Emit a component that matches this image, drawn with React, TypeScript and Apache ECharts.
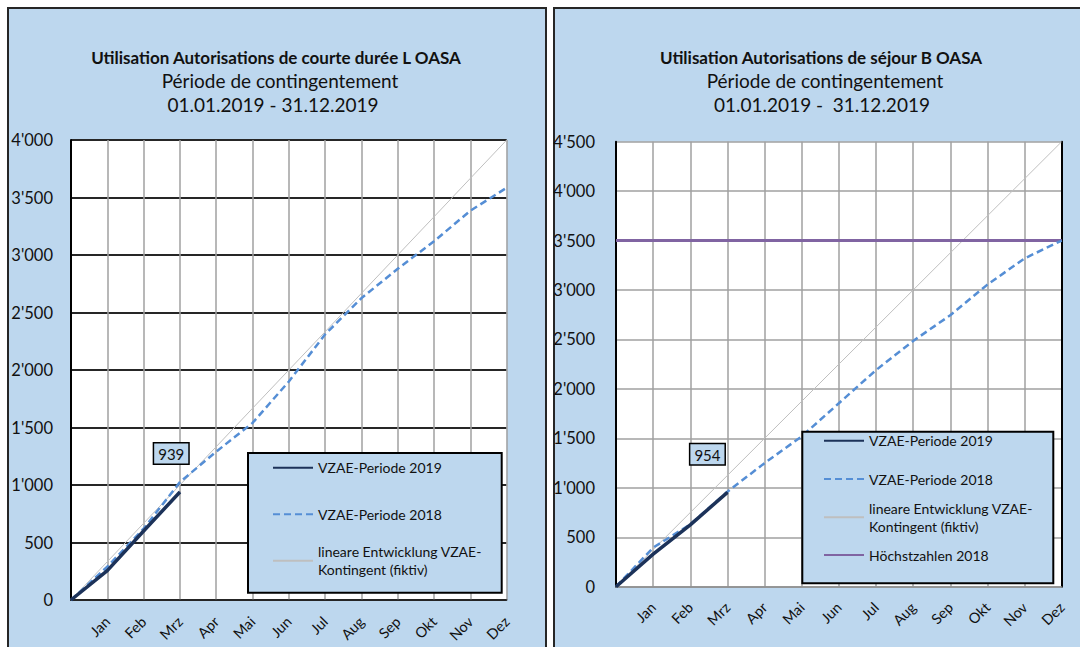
import React, { useEffect, useRef } from 'react';
import * as echarts from 'echarts';

// ---------- data ----------
const months = ['', 'Jan', 'Feb', 'Mrz', 'Apr', 'Mai', 'Jun', 'Jul', 'Aug', 'Sep', 'Okt', 'Nov', 'Dez'];

const leftTitle = 'Utilisation Autorisations de courte durée L OASA';
const rightTitle = 'Utilisation Autorisations de séjour B OASA';
const subTitle = 'Période de contingentement';
const leftPeriod = '01.01.2019 - 31.12.2019';
const rightPeriod = '01.01.2019 -  31.12.2019';

const name2019 = 'VZAE-Periode 2019';
const name2018 = 'VZAE-Periode 2018';
const nameLinear = 'lineare Entwicklung VZAE-\nKontingent (fiktiv)';
const nameMax = 'Höchstzahlen 2018';

// Left chart (L permits)
const leftVzae2019 = [0, 255, 600, 939];
const leftVzae2018 = [0, 290, 620, 1025, 1290, 1540, 1900, 2310, 2625, 2880, 3120, 3385, 3585];
const leftLinear = [0, 333, 667, 1000, 1333, 1667, 2000, 2333, 2667, 3000, 3333, 3667, 4000];
const leftYMin = 0;
const leftYMax = 4000;
const leftYStep = 500;

// Right chart (B permits)
const rightVzae2019 = [0, 330, 625, 954];
const rightVzae2018 = [0, 395, 630, 960, 1250, 1520, 1855, 2190, 2485, 2745, 3055, 3320, 3500];
const rightLinear = [0, 375, 750, 1125, 1500, 1875, 2250, 2625, 3000, 3375, 3750, 4125, 4500];
const rightMax2018 = [3500, 3500, 3500, 3500, 3500, 3500, 3500, 3500, 3500, 3500, 3500, 3500, 3500];
const rightYMin = 0;
const rightYMax = 4500;
const rightYStep = 500;

// ---------- style ----------
const FONT = 'Lato, "Open Sans", sans-serif';
const BG = '#BDD7EE';
const NAVY = '#1C3259';
const BLUE = '#558ED5';
const GRAY = '#BFBFBF';
const PURPLE = '#8064A2';
const TXT = '#111111';

const fmtThousands = (v: number) => String(v).replace(/\B(?=(\d{3})+(?!\d))/g, "'");

function withEndLabel(values: number[], offset: number[]) {
  const last = values.length - 1;
  return values.map((v, i) =>
    i === last
      ? {
          value: v,
          symbol: 'circle',
          symbolSize: 1,
          itemStyle: { color: NAVY },
          label: {
            show: true,
            position: 'top',
            distance: 5,
            offset,
            formatter: (p: any) => String(p.value),
            fontFamily: FONT,
            fontSize: 15,
            color: TXT,
            backgroundColor: BG,
            borderColor: '#000',
            borderWidth: 1.5,
            padding: [3, 4, 2, 4],
          },
        }
      : v
  );
}

function legendItem(name: string, left: number, top: number, multiline: boolean) {
  return {
    data: [name],
    left,
    top,
    orient: 'vertical',
    padding: 0,
    itemWidth: 40,
    itemHeight: 18,
    selectedMode: false,
    z: 12,
    itemStyle: { color: 'rgba(0,0,0,0)', borderColor: 'rgba(0,0,0,0)', borderWidth: 0, opacity: 0 },
    textStyle: {
      fontFamily: FONT,
      fontSize: 14,
      color: TXT,
      lineHeight: 18,
      padding: multiline ? [18, 0, 0, 0] : 0,
    },
  };
}

function titleItem(text: string, x: number, top: number, bold: boolean, size: number) {
  return {
    text,
    left: x,
    top,
    textAlign: 'center',
    padding: 0,
    textStyle: {
      fontFamily: FONT,
      fontSize: size,
      fontWeight: bold ? 'bold' : 'normal',
      color: TXT,
      lineHeight: 23,
    },
  };
}

function buildOption() {
  const xAxisBase = (gridIndex: number, margin: number) => ({
    type: 'category',
    gridIndex,
    data: months,
    boundaryGap: false,
    axisTick: { show: false },
    axisLine: { show: true, lineStyle: { color: gridIndex === 0 ? '#262626' : '#8C8C8C', width: 1.5 } },
    axisLabel: {
      interval: 0,
      rotate: 45,
      margin,
      fontFamily: FONT,
      fontSize: 14.5,
      color: TXT,
    },
    splitLine: { show: true, interval: 0, lineStyle: { color: '#A0A0A0', width: 1.5 } },
  });

  return {
    animation: false,
    backgroundColor: 'transparent',
    title: [
      titleItem(leftTitle, 276, 46, true, 17),
      titleItem(subTitle, 280, 68.5, false, 19),
      titleItem(leftPeriod, 273, 92.5, false, 19),
      titleItem(rightTitle, 821, 46, true, 17),
      titleItem(subTitle, 825, 68.5, false, 19),
      titleItem(rightPeriod, 822, 92.5, false, 19),
    ],
    grid: [
      { left: 71, top: 140, width: 435.7, height: 460, show: true, backgroundColor: '#FFFFFF', borderWidth: 0 },
      { left: 616, top: 141.7, width: 445.7, height: 445, show: true, backgroundColor: '#FFFFFF', borderWidth: 0 },
    ],
    xAxis: [xAxisBase(0, 19), xAxisBase(1, 18)],
    yAxis: [
      {
        type: 'value',
        gridIndex: 0,
        min: leftYMin,
        max: leftYMax,
        interval: leftYStep,
        axisLine: { show: true, lineStyle: { color: '#000', width: 2 } },
        axisTick: { show: false },
        axisLabel: { margin: 18, fontFamily: FONT, fontSize: 16.5, color: TXT, formatter: fmtThousands },
        splitLine: { show: true, lineStyle: { color: '#262626', width: 1.8 } },
      },
      {
        type: 'value',
        gridIndex: 1,
        min: rightYMin,
        max: rightYMax,
        interval: rightYStep,
        axisLine: { show: true, lineStyle: { color: '#000', width: 2 } },
        axisTick: { show: false },
        axisLabel: { margin: 21, fontFamily: FONT, fontSize: 16.5, color: TXT, formatter: fmtThousands },
        splitLine: { show: true, lineStyle: { color: '#A0A0A0', width: 1.5 } },
      },
      {
        type: 'value',
        gridIndex: 1,
        position: 'right',
        min: rightYMin,
        max: rightYMax,
        interval: rightYStep,
        axisLine: { show: true, lineStyle: { color: '#000', width: 2 } },
        axisTick: { show: false },
        axisLabel: { show: false },
        splitLine: { show: false },
      },
    ],
    legend: [
      legendItem(name2019, 272, 458.7, false),
      legendItem(name2018, 272, 505.3, false),
      legendItem(nameLinear, 272, 533.7, true),
      legendItem(name2019, 823, 431.7, false),
      legendItem(name2018, 823, 470, false),
      legendItem(nameLinear, 823, 490.3, true),
      legendItem(nameMax, 823, 546, false),
    ],
    graphic: [
      {
        type: 'rect',
        z: 10,
        shape: { x: 248, y: 453, width: 253.7, height: 139.7 },
        style: { fill: BG, stroke: '#000', lineWidth: 2 },
      },
      {
        type: 'rect',
        z: 10,
        shape: { x: 802.3, y: 431.7, width: 251, height: 151.6 },
        style: { fill: BG, stroke: '#000', lineWidth: 2 },
      },
    ],
    series: [
      {
        name: nameLinear,
        type: 'line',
        xAxisIndex: 0,
        yAxisIndex: 0,
        data: leftLinear,
        symbol: 'none',
        z: 2,
        itemStyle: { color: GRAY },
        lineStyle: { color: GRAY, width: 1 },
      },
      {
        name: name2018,
        type: 'line',
        xAxisIndex: 0,
        yAxisIndex: 0,
        data: leftVzae2018,
        symbol: 'none',
        z: 3,
        itemStyle: { color: BLUE },
        lineStyle: { color: BLUE, width: 2.5, type: [7, 4] },
      },
      {
        name: name2019,
        type: 'line',
        xAxisIndex: 0,
        yAxisIndex: 0,
        data: withEndLabel(leftVzae2019, [-8.7, -23]),
        symbol: 'none',
        showSymbol: true,
        z: 4,
        itemStyle: { color: NAVY },
        lineStyle: { color: NAVY, width: 3.5 },
      },
      {
        name: nameMax,
        type: 'line',
        xAxisIndex: 1,
        yAxisIndex: 1,
        data: rightMax2018,
        symbol: 'none',
        z: 3,
        itemStyle: { color: PURPLE },
        lineStyle: { color: PURPLE, width: 3 },
      },
      {
        name: nameLinear,
        type: 'line',
        xAxisIndex: 1,
        yAxisIndex: 1,
        data: rightLinear,
        symbol: 'none',
        z: 2,
        itemStyle: { color: GRAY },
        lineStyle: { color: GRAY, width: 1 },
      },
      {
        name: name2018,
        type: 'line',
        xAxisIndex: 1,
        yAxisIndex: 1,
        data: rightVzae2018,
        symbol: 'none',
        z: 3,
        itemStyle: { color: BLUE },
        lineStyle: { color: BLUE, width: 2.5, type: [7, 4] },
      },
      {
        name: name2019,
        type: 'line',
        xAxisIndex: 1,
        yAxisIndex: 1,
        data: withEndLabel(rightVzae2019, [-20, -22.5]),
        symbol: 'none',
        showSymbol: true,
        z: 4,
        itemStyle: { color: NAVY },
        lineStyle: { color: NAVY, width: 3.5 },
      },
    ],
  };
}

export default function App() {
  const ref = useRef<HTMLDivElement>(null);
  useEffect(() => {
    if (!ref.current) return;
    const chart = echarts.init(ref.current, undefined, { renderer: 'svg' });
    chart.setOption(buildOption() as any);
    return () => chart.dispose();
  }, []);

  const panel = (left: number, width: number): React.CSSProperties => ({
    position: 'absolute',
    left,
    top: 7,
    width,
    height: 660,
    boxSizing: 'border-box',
    border: '2px solid #262626',
    background: BG,
  });

  return (
    <div
      style={{
        position: 'absolute',
        left: 0,
        top: 0,
        width: 1080,
        height: 647,
        overflow: 'hidden',
        background: '#FFFFFF',
      }}
    >
      <div style={panel(7.3, 539.4)} />
      <div style={panel(553.3, 540)} />
      <div ref={ref} style={{ position: 'absolute', left: 0, top: 0, width: 1080, height: 647 }} />
    </div>
  );
}
